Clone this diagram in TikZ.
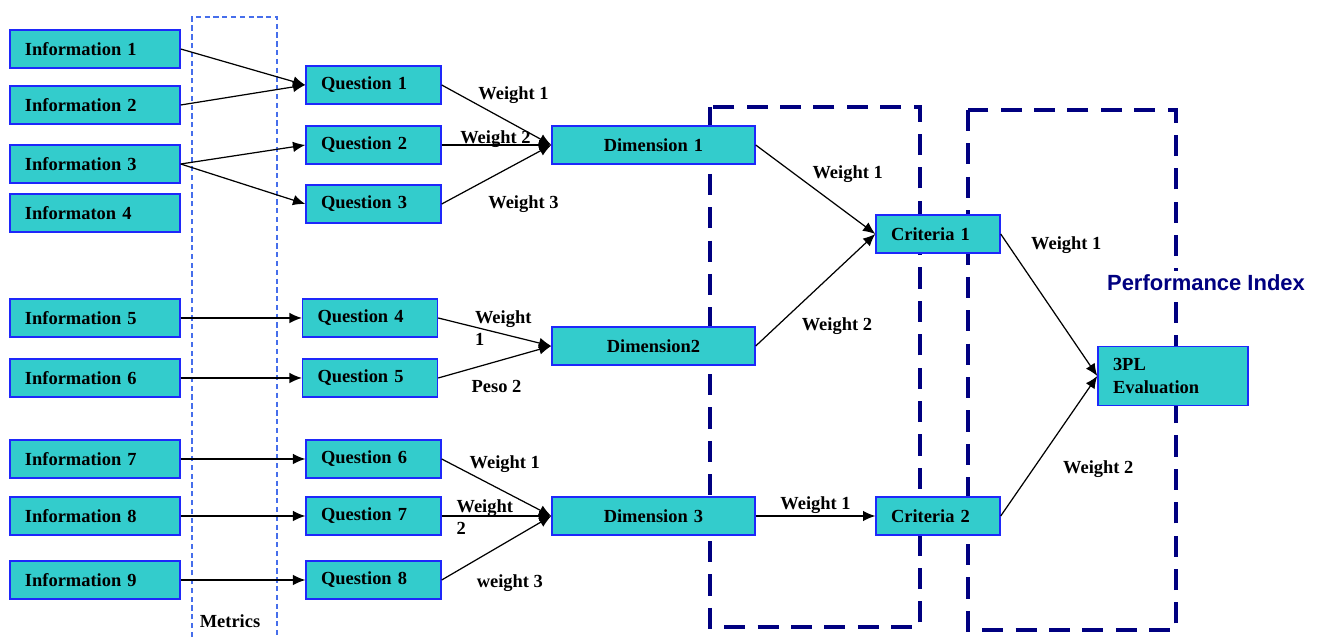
\documentclass[tikz,border=0pt]{standalone}
\usepackage{fontspec}
\setmainfont{Liberation Serif}
\newfontfamily\arialfont{Liberation Sans}
\definecolor{turquoise}{RGB}{51,204,204}
\definecolor{boxblue}{RGB}{30,40,250}
\definecolor{navy}{RGB}{0,0,128}
\definecolor{metricblue}{RGB}{70,110,235}
\usetikzlibrary{arrows.meta}
\tikzstyle{block} = [rectangle, minimum height=0.76cm, inner xsep=0.3cm, inner ysep=0pt, draw=boxblue, line width=0.8pt, fill=turquoise, font=\fontsize{10.5}{12.6}\selectfont\bfseries]
\tikzstyle{info} = [block, text width=2.8cm, align=left]
\tikzstyle{question} = [block, text width=2.1cm, align=left]
\tikzstyle{dimension} = [block, text width=3.46cm, align=center]
\tikzstyle{criteria} = [block, text width=1.88cm, align=left]
\tikzstyle{evaluation} = [block, minimum height=1.18cm, text width=2.4cm, align=left]
\tikzstyle{arrow} = [line width=0.7pt, ->, >={Latex[length=7pt,width=6pt]}]
\tikzstyle{weight} = [inner sep=0pt, align=left, font=\fontsize{10.5}{12.6}\selectfont\bfseries]
\tikzstyle{dashframe} = [draw=navy, line width=2.2pt, dash pattern=on 12pt off 7pt]
\tikzstyle{metricsframe} = [draw=metricblue, line width=0.6pt, dash pattern=on 3pt off 2pt]

\begin{document}
\begin{tikzpicture}
        \useasboundingbox (0,0) rectangle (26.44,-12.74);

        % frames behind the boxes
        \draw [metricsframe] (3.84,-12.74) -- (3.84,-0.34) -- (5.54,-0.34) -- (5.54,-12.74);
        \draw [dashframe] (14.2,-2.14) rectangle (18.4,-12.54);
        \draw [dashframe] (19.36,-2.2) rectangle (23.52,-12.6);
        \node (metrics) [weight] at (4.6,-12.42) {Metrics};
        \node (pindex) [fill=white, text=navy, inner sep=2pt, font=\arialfont\fontsize{12.5}{15}\selectfont\bfseries] at (24.12,-5.66) {Performance Index};

        \node (inf1) [info] at (1.9,-0.98) {Information 1};
        \node (inf2) [info, below of=inf1, node distance=1.12cm] {Information 2};
        \node (inf3) [info, below of=inf2, node distance=1.18cm] {Information 3};
        \node (inf4) [info, below of=inf3, node distance=0.98cm] {Informaton 4};
        \node (inf5) [info, below of=inf4, node distance=2.1cm] {Information 5};
        \node (inf6) [info, below of=inf5, node distance=1.2cm] {Information 6};
        \node (inf7) [info, below of=inf6, node distance=1.62cm] {Information 7};
        \node (inf8) [info, below of=inf7, node distance=1.14cm] {Information 8};
        \node (inf9) [info, below of=inf8, node distance=1.28cm] {Information 9};

        \node (q1) [question] at (7.47,-1.7) {Question 1};
        \node (q2) [question, below of=q1, node distance=1.2cm] {Question 2};
        \node (q3) [question, below of=q2, node distance=1.18cm] {Question 3};
        \node (q4) [question, right of=inf5, node distance=5.5cm] {Question 4};
        \node (q5) [question, right of=inf6, node distance=5.5cm] {Question 5};
        \node (q6) [question, right of=inf7, node distance=5.57cm] {Question 6};
        \node (q7) [question, right of=inf8, node distance=5.57cm] {Question 7};
        \node (q8) [question, right of=inf9, node distance=5.57cm] {Question 8};

        \node (dim1) [dimension, right of=q2, node distance=5.6cm] {Dimension 1};
        \node (dim2) [dimension] at (13.07,-6.92) {Dimension2};
        \node (dim3) [dimension, right of=q7, node distance=5.6cm] {Dimension 3};

        \node (crit1) [criteria] at (18.76,-4.68) {Criteria 1};
        \node (crit2) [criteria, right of=dim3, node distance=5.69cm] {Criteria 2};
        \node (eval) [evaluation] at (23.46,-7.52) {3PL\\Evaluation};

        \draw [arrow] (inf1.east) -- (q1.west);
        \draw [arrow] (inf2.east) -- (q1.west);
        \draw [arrow] (inf3.east) -- (q2.west);
        \draw [arrow] (inf3.east) -- (q3.west);
        \draw [arrow] (inf5.east) -- (q4.west);
        \draw [arrow] (inf6.east) -- (q5.west);
        \draw [arrow] (inf7.east) -- (q6.west);
        \draw [arrow] (inf8.east) -- (q7.west);
        \draw [arrow] (inf9.east) -- (q8.west);

        \draw [arrow] (q1.east) -- node[weight, pos=0.33, anchor=south west, yshift=0.02cm] {Weight 1} (dim1.west);
        \draw [arrow] (q2.east) -- node[weight, pos=0.49, anchor=south, yshift=-0.06cm] {Weight 2} (dim1.west);
        \draw [arrow] (q3.east) -- node[weight, pos=0.42, anchor=north west, yshift=-0.32cm] {Weight 3} (dim1.west);
        \draw [arrow] (q4.east) -- node[weight, pos=0.32, anchor=west, yshift=-0.03cm] {Weight\\1} (dim2.west);
        \draw [arrow] (q5.east) -- node[weight, pos=0.29, anchor=north west, yshift=-0.22cm] {Peso 2} (dim2.west);
        \draw [arrow] (q6.east) -- node[weight, pos=0.25, anchor=south west] {Weight 1} (dim3.west);
        \draw [arrow] (q7.east) -- node[weight, pos=0.13, anchor=west, yshift=-0.03cm] {Weight\\2} (dim3.west);
        \draw [arrow] (q8.east) -- node[weight, pos=0.315, anchor=north west, yshift=-0.28cm] {weight 3} (dim3.west);

        \draw [arrow] (dim1.east) -- node[weight, pos=0.47, anchor=south west, yshift=0.08cm] {Weight 1} (crit1.west);
        \draw [arrow] (dim2.east) -- node[weight, pos=0.38, anchor=north west, yshift=-0.28cm] {Weight 2} (crit1.west);
        \draw [arrow] (dim3.east) -- node[weight, pos=0.5, anchor=south, yshift=0.04cm] {Weight 1} (crit2.west);

        \draw [arrow] (crit1.east) -- node[weight, pos=0.06, anchor=west, xshift=0.48cm, yshift=-0.06cm] {Weight 1} (eval.west);
        \draw [arrow] (crit2.east) -- node[weight, pos=0.35, anchor=west, xshift=0.56cm, yshift=-0.04cm] {Weight 2} (eval.west);
    \end{tikzpicture}
\end{document}
